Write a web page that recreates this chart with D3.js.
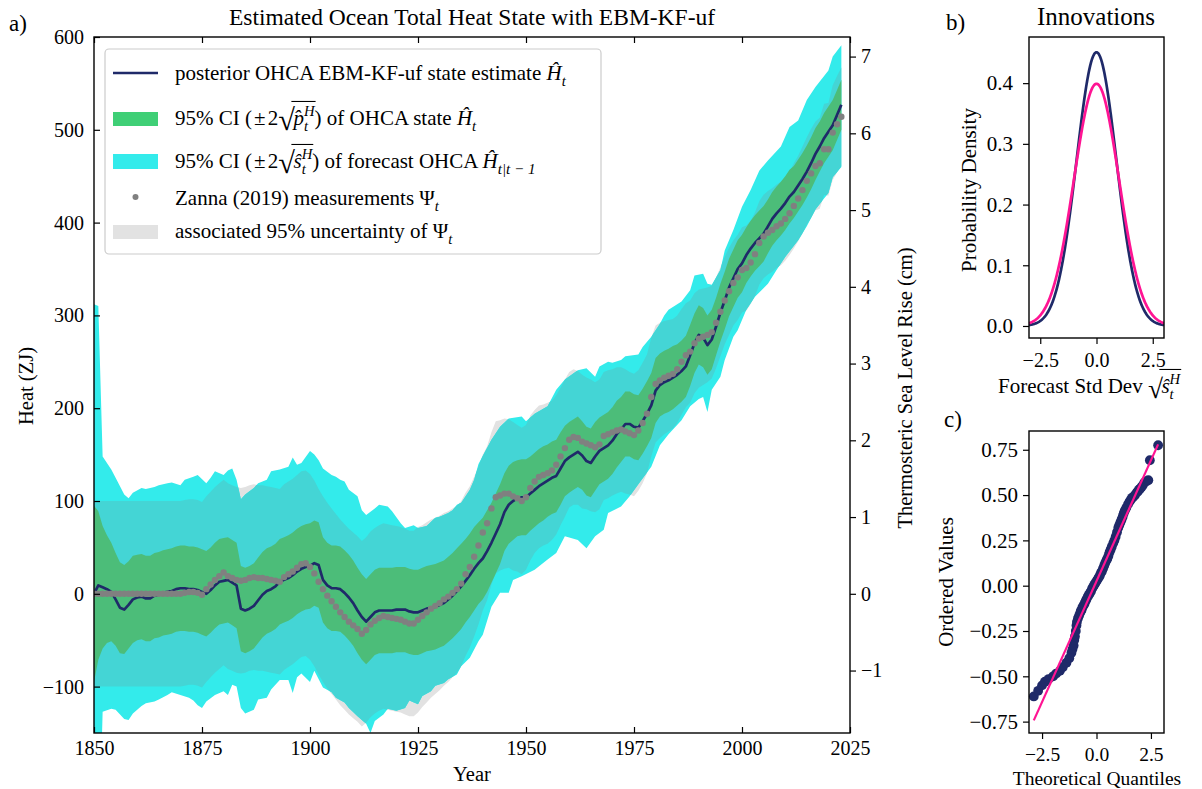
<!DOCTYPE html>
<html><head><meta charset="utf-8">
<script src="https://cdn.jsdelivr.net/npm/d3@7"></script>
<style>
body{margin:0;background:#fff}
text{font-family:"Liberation Serif","Times New Roman",serif;fill:#000;white-space:pre}
</style></head>
<body><svg id="fig" width="1202" height="789"></svg>
<script>
// ---------------- data ----------------
const firstYear = 1850;
// Zanna (2019) ocean heat content measurements, ZJ, one per year 1850-2023
const measured = [
  0,0,0,0,0,0,0,0,0,0,
  0,0,0,0,0,0,0,0,0,0,
  0,1,2,2,1,-1,5,10,15,19,
  23,19,17,15,14,15,17,18,17,17,
  16,15,14,13,18,21,24,28,32,33,
  29,22,13,5,-2,-8,-14,-20,-25,-30,
  -34,-38,-43,-39,-33,-29,-26,-24,-25,-26,
  -27,-28,-30,-32,-32,-28,-24,-20,-16,-13,
  -10,-6,-3,1,5,11,21,29,40,52,
  66,76,92,104,106,108,108,105,103,100,
  104,114,121,126,128,130,133,139,148,157,
  166,169,168,164,162,160,158,161,170,172,
  174,176,177,175,173,171,176,184,194,212,
  226,230,233,235,237,242,250,257,261,270,
  275,277,279,282,292,304,316,326,335,341,
  349,351,357,366,378,385,389,392,396,399,
  404,410,418,426,435,445,453,461,464,479,
  479,497,506,514
];
// half-width of the 95% measurement uncertainty, ZJ
const measuredUnc = [
  100,100,100,100,100,100,100,100,100,100,
  100,100,100,100,100,100,100,100,100,100,
  100,100,100,100,100,100,100,100,100,100,
  100,100,100,100,100,100,100,100,100,100,
  100,100,100,100,100,100,100,100,100,100,
  100,100,100,100,100,100,100,100,100,100,
  100,100,100,100,100,100,100,100,100,100,
  100,100,100,100,100,100,98,97,96,95,
  94,93,92,91,90,89,88,87,86,85,
  84,83,82,82,81,81,80,80,79,79,
  78,78,77,77,76,76,75,75,74,74,
  73,73,72,72,71,71,70,70,69,69,
  68,68,67,67,66,66,65,65,64,64,
  63,62,61,60,59,58,57,56,55,54,
  53,52,51,50,49,48,47,47,46,46,
  46,46,45,45,45,45,45,45,45,45,
  45,45,46,46,47,47,48,48,49,49,
  50,51,52,53
];
// posterior EBM-KF-uf state estimate of ocean heat, ZJ
const posterior = [
  0,9,7,5,2,-6,-15,-17,-12,-6,
  -4,-3,-5,-5,-2,-1,1,2,3,5,
  6,6,5,5,4,2,0,4,9,13,
  14,15,12,9,-16,-18,-16,-13,-7,-1,
  3,5,8,13,15,17,20,24,27,29,
  30,33,31,15,9,6,6,5,1,-4,
  -10,-18,-25,-30,-25,-20,-18,-18,-18,-18,
  -17,-17,-17,-19,-20,-20,-18,-16,-15,-14,
  -12,-10,-6,-2,3,8,14,20,27,33,
  38,46,55,65,75,88,96,100,103,104,
  104,108,112,116,119,122,125,127,135,143,
  147,150,153,149,143,141,148,154,157,160,
  165,172,177,183,183,180,179,186,194,203,
  219,225,228,230,233,236,240,245,257,270,
  279,276,268,274,288,303,316,330,340,350,
  356,365,372,378,383,388,396,404,410,415,
  421,428,433,440,447,455,464,474,482,491,
  498,505,516,527
];
// 2*sqrt(p) half-width of the posterior state interval, ZJ
const posteriorCI = [
  95,80,66,58,53,50,49,48,47,47,
  46,46,46,46,46,46,46,46,46,46,
  46,46,46,46,46,46,46,46,46,46,
  46,46,46,46,46,46,46,46,46,46,
  46,46,46,46,46,46,46,46,46,46,
  46,46,46,46,46,46,46,46,46,46,
  46,46,46,46,46,46,46,46,46,46,
  46,46,46,46,46,46,46,46,46,46,
  46,46,46,46,46,46,45,45,45,44,
  44,44,43,43,43,42,42,42,41,41,
  41,40,40,40,40,39,39,39,39,38,
  38,38,38,37,37,37,37,36,36,36,
  36,36,35,35,35,35,35,35,35,35,
  35,34,34,34,34,33,33,33,33,32,
  32,32,32,32,31,31,31,31,31,31,
  31,30,30,30,30,30,29,29,29,29,
  29,29,28,28,28,28,28,28,27,27,
  27,27,27,27
];
// edges of the 95% forecast interval, [year, ZJ]
const forecastUpperYears = [1850,1851,1852,1854,1855,1857,1858,1859,1861,1862,1864,1865,1867,1868,1870,1871,1873,1874,1876,1877,1878,1880,1881,1882,1883,1884,1885,1887,1888,1890,1891,1893,1895,1896,1897,1898,1900,1901,1902,1903,1905,1906,1907,1908,1909,1911,1912,1913,1915,1916,1918,1919,1921,1922,1924,1925,1927,1929,1930,1932,1933,1934,1935,1937,1938,1939,1942,1944,1946,1949,1950,1952,1955,1957,1959,1962,1964,1966,1967,1969,1970,1972,1973,1976,1977,1979,1981,1982,1983,1986,1988,1989,1991,1992,1993,1995,1996,1998,2000,2002,2004,2006,2009,2011,2013,2015,2017,2020,2021,2023];
const forecastUpper = [312,310,148,134,125,107,103,109,114,113,115,117,119,120,117,123,126,128,119,125,132,128,133,135,123,102,107,114,119,123,132,134,137,147,139,141,154,150,144,135,128,126,123,121,112,105,90,85,92,96,94,89,76,71,74,71,73,82,83,87,90,96,98,112,123,140,166,180,189,191,186,194,202,220,231,241,243,234,245,250,249,252,256,258,266,277,291,300,306,315,327,343,345,334,333,349,370,392,417,435,456,467,482,503,510,532,546,564,579,591];
const forecastLowerYears = [1850,1851,1852,1854,1855,1857,1858,1859,1861,1862,1864,1865,1867,1868,1870,1872,1873,1874,1875,1876,1878,1880,1881,1882,1883,1884,1885,1887,1888,1890,1891,1893,1895,1896,1897,1898,1900,1901,1903,1905,1906,1908,1909,1911,1913,1914,1915,1917,1918,1920,1922,1923,1925,1926,1928,1929,1931,1932,1934,1935,1937,1939,1940,1942,1944,1946,1947,1949,1952,1955,1957,1959,1962,1964,1966,1968,1969,1972,1974,1976,1979,1981,1983,1986,1988,1990,1991,1992,1993,1995,1996,1998,1999,2001,2003,2006,2008,2010,2013,2015,2017,2020,2021,2023];
const forecastLower = [-312,-300,-127,-124,-125,-135,-136,-129,-121,-118,-116,-114,-109,-106,-109,-112,-115,-120,-123,-116,-109,-105,-109,-98,-100,-123,-129,-125,-114,-112,-103,-93,-93,-107,-90,-86,-95,-83,-101,-106,-112,-117,-123,-132,-140,-150,-137,-130,-124,-126,-123,-115,-119,-110,-105,-99,-96,-92,-87,-78,-69,-51,-44,-14,1,1,15,19,26,37,44,62,58,49,62,69,87,94,105,118,137,160,172,187,202,210,212,196,220,234,252,277,284,306,320,334,349,363,381,396,414,432,449,460];

// innovation density panel: fitted innovation sd and the standard normal
const innovSd = [0.885, 1.0];

// probability plot: theoretical quantiles and ordered standardized innovations
const qqTheoretical = [-2.88,-2.68,-2.5,-2.37,-2.2,-1.99,-1.85,-1.68,-1.55,-1.38,-1.25,-1.15,-1.1,-1.05,-1.02,-0.99,-0.95,-0.92,-0.9,-0.85,-0.8,-0.75,-0.72,-0.69,-0.65,-0.6,-0.55,-0.5,-0.46,-0.4,-0.35,-0.3,-0.25,-0.2,-0.15,-0.1,-0.05,0,0.05,0.1,0.15,0.2,0.25,0.3,0.35,0.4,0.46,0.5,0.55,0.6,0.65,0.7,0.77,0.82,0.88,0.94,1.0,1.05,1.1,1.15,1.2,1.25,1.3,1.37,1.45,1.52,1.58,1.63,1.69,1.77,1.85,1.9,1.95,2.0,2.07,2.13,2.2,2.28,2.38,2.45,2.83];
const qqOrdered = [-0.611,-0.58,-0.55,-0.53,-0.515,-0.5,-0.485,-0.47,-0.45,-0.425,-0.4,-0.37,-0.35,-0.33,-0.3,-0.28,-0.25,-0.22,-0.2,-0.18,-0.165,-0.15,-0.14,-0.135,-0.12,-0.11,-0.1,-0.085,-0.075,-0.06,-0.05,-0.04,-0.03,-0.015,-0.005,0.005,0.015,0.025,0.035,0.045,0.055,0.07,0.08,0.095,0.11,0.125,0.14,0.15,0.165,0.185,0.2,0.215,0.235,0.25,0.27,0.295,0.32,0.335,0.35,0.365,0.38,0.4,0.415,0.43,0.45,0.465,0.475,0.485,0.49,0.5,0.515,0.52,0.53,0.535,0.545,0.555,0.57,0.575,0.582,0.692,0.775];
const qqFit = [0.2667, 0.025]; // slope, intercept

const yearTicks = [1850,1875,1900,1925,1950,1975,2000,2025];
const heatTicks = [-100,0,100,200,300,400,500,600];
const seaTicks = [-1,0,1,2,3,4,5,6,7];
const densityTicks = [0,0.1,0.2,0.3,0.4];
const sdTicks = [-2.5,0,2.5];
const orderedTicks = [-0.75,-0.5,-0.25,0,0.25,0.5,0.75];
const zjPerCm = 82.7;

// ---------------- drawing ----------------
const svg = d3.select("#fig");
const NAVY = "#1f2a69", PINK = "#ff1493";
const C_CYAN = "#33ebeb", C_TEAL = "#44d5d5", C_GREEN = "#4cbd79", C_GRAY = "#e2e2e2";
const SERIF = "Liberation Serif, Times New Roman, serif";
const TICK = 20, LABEL = 20.5, SMALLTICK = 21;

const years = measured.map((_, i) => firstYear + i);
const x = d3.scaleLinear().domain([1850, 2025]).range([94, 850]);
const y = d3.scaleLinear().domain([-150, 600]).range([733, 37]);
const yR = d3.scaleLinear().domain([-150 / zjPerCm, 600 / zjPerCm]).range([733, 37]);

const defs = svg.append("defs");
defs.append("clipPath").attr("id", "plotClip").append("rect")
  .attr("x", 94).attr("y", 37).attr("width", 756).attr("height", 696);

const forecastPts = forecastUpperYears.map((yr, i) => [yr, forecastUpper[i]])
  .concat(forecastLowerYears.map((yr, i) => [yr, forecastLower[i]]).reverse());
const polyLine = d3.line().x(d => x(d[0])).y(d => y(d[1]));
const forecastPath = polyLine(forecastPts) + "Z";
defs.append("clipPath").attr("id", "forecastClip").append("path").attr("d", forecastPath);

const plot = svg.append("g").attr("clip-path", "url(#plotClip)");
const uncArea = d3.area().x((d, i) => x(years[i]))
  .y0((d, i) => y(measured[i] - measuredUnc[i])).y1((d, i) => y(measured[i] + measuredUnc[i]));
plot.append("path").attr("d", uncArea(measured)).attr("fill", C_GRAY);
plot.append("path").attr("d", forecastPath).attr("fill", C_CYAN);
plot.append("path").attr("d", uncArea(measured)).attr("fill", C_TEAL).attr("clip-path", "url(#forecastClip)");
const ciArea = d3.area().x((d, i) => x(years[i]))
  .y0((d, i) => y(posterior[i] - posteriorCI[i])).y1((d, i) => y(posterior[i] + posteriorCI[i]));
plot.append("path").attr("d", ciArea(posterior)).attr("fill", C_GREEN);
plot.append("path").attr("d", d3.line().x((d, i) => x(years[i])).y(d => y(d))(posterior))
  .attr("fill", "none").attr("stroke", NAVY).attr("stroke-width", 2.7).attr("stroke-linejoin", "round");
plot.selectAll("circle.meas").data(measured).join("circle").attr("class", "meas")
  .attr("cx", (d, i) => x(years[i])).attr("cy", d => y(d)).attr("r", 3.2).attr("fill", "#808080");

function styleAxis(g, size) {
  g.attr("font-family", SERIF).attr("font-size", size);
  g.selectAll(".tick line").attr("stroke", "#000").attr("stroke-width", 1.2);
  g.selectAll(".tick text").attr("fill", "#000");
  g.select(".domain").remove();
}
svg.append("g").attr("transform", "translate(0,733)")
  .call(d3.axisBottom(x).tickValues(yearTicks).tickFormat(d3.format("d")).tickSizeInner(-6).tickSizeOuter(0).tickPadding(8))
  .call(g => styleAxis(g, TICK));
svg.append("g").attr("transform", "translate(0,37)")
  .call(d3.axisTop(x).tickValues(yearTicks).tickFormat("").tickSizeInner(-6).tickSizeOuter(0))
  .call(g => styleAxis(g, TICK));
svg.append("g").attr("transform", "translate(94,0)")
  .call(d3.axisLeft(y).tickValues(heatTicks).tickFormat(d3.format("d")).tickSizeInner(-6).tickSizeOuter(0).tickPadding(10))
  .call(g => styleAxis(g, TICK));
svg.append("g").attr("transform", "translate(850,0)")
  .call(d3.axisRight(yR).tickValues(seaTicks).tickFormat(d3.format("d")).tickSizeInner(6).tickSizeOuter(0).tickPadding(5))
  .call(g => styleAxis(g, TICK));
svg.append("rect").attr("x", 94).attr("y", 37).attr("width", 756).attr("height", 696)
  .attr("fill", "none").attr("stroke", "#000").attr("stroke-width", 1.4);

svg.append("text").attr("x", 472).attr("y", 25).attr("text-anchor", "middle").attr("font-size", 23.5)
  .text("Estimated Ocean Total Heat State with EBM-KF-uf");
svg.append("text").attr("x", 472).attr("y", 781).attr("text-anchor", "middle").attr("font-size", LABEL).text("Year");
svg.append("text").attr("transform", "translate(33,386) rotate(-90)").attr("text-anchor", "middle").attr("font-size", LABEL).text("Heat (ZJ)");
svg.append("text").attr("transform", "translate(912,388) rotate(-90)").attr("text-anchor", "middle").attr("font-size", LABEL).text("Thermosteric Sea Level Rise (cm)");
svg.append("text").attr("x", 9).attr("y", 31).attr("font-size", 23).text("a)");
svg.append("text").attr("x", 946).attr("y", 30).attr("font-size", 23).text("b)");
svg.append("text").attr("x", 944).attr("y", 427).attr("font-size", 23).text("c)");

// text with simple math: parts are {t, it, s (scale), dy (em), stack, ovStart, ovEnd, kern, pre}
function mathText(g, x0, y0, parts, size) {
  let cx = x0, ov = null, stackW = 0;
  const lines = [];
  parts.forEach(p => {
    cx += (p.pre || 0) * size;
    const t = g.append("text").attr("x", cx).attr("y", y0 + (p.dy || 0) * size)
      .attr("font-size", size * (p.s || 1)).attr("font-style", p.it ? "italic" : "normal").text(p.t);
    if (p.ovStart !== undefined) ov = cx + p.ovStart * size;
    const w = t.node().getComputedTextLength() + (p.kern || 0) * size;
    if (p.stack) { stackW = Math.max(stackW, w); }
    else { cx += Math.max(w, stackW); stackW = 0; }
    if (p.ovEnd) lines.push([ov, cx + 1]);
  });
  lines.forEach(([a, b]) => g.append("line").attr("x1", a).attr("x2", b)
    .attr("y1", y0 - size * 1.12).attr("y2", y0 - size * 1.12).attr("stroke", "#000").attr("stroke-width", 1.1));
  return cx;
}
const hatH = [{ t: "H\u0302", it: true }, { t: "t", it: true, s: 0.7, dy: 0.3 }];
const plusTwo = [{ t: "95% CI (" }, { t: "\u00B1", pre: 0.1, kern: 0.1 }, { t: "2" }];
function rootOf(letter, rs) {
  return [{ t: "\u221A", s: rs || 1.45, dy: 0.24, kern: -0.07 },
          { t: letter + "\u0302", it: true, ovStart: -0.1 },
          { t: "H", it: true, s: 0.7, dy: -0.45, stack: true },
          { t: "t", it: true, s: 0.7, dy: 0.3, ovEnd: true, kern: 0.06 }];
}

// legend
const lg = svg.append("g");
lg.append("rect").attr("x", 105).attr("y", 49).attr("width", 496).attr("height", 205).attr("rx", 4)
  .attr("fill", "#fff").attr("stroke", "#cccccc").attr("stroke-width", 1.2);
const LX = 175, LS = 21;
lg.append("line").attr("x1", 113).attr("x2", 158).attr("y1", 73).attr("y2", 73).attr("stroke", NAVY).attr("stroke-width", 2.7);
mathText(lg, LX, 80, [{ t: "posterior OHCA EBM-KF-uf state estimate " }].concat(hatH), LS);
lg.append("rect").attr("x", 113).attr("y", 112).attr("width", 45).attr("height", 14).attr("fill", "#3fcf76");
mathText(lg, LX, 125, plusTwo.concat(rootOf("p"), [{ t: ") of OHCA state " }], hatH), LS);
lg.append("rect").attr("x", 113).attr("y", 154).attr("width", 45).attr("height", 15).attr("fill", C_CYAN);
mathText(lg, LX, 168, plusTwo.concat(rootOf("s"), [{ t: ") of forecast OHCA " }, { t: "H\u0302", it: true }, { t: "t|t \u2212 1", it: true, s: 0.72, dy: 0.3 }]), LS);
lg.append("circle").attr("cx", 135.5).attr("cy", 197).attr("r", 3).attr("fill", "#808080");
mathText(lg, LX, 205, [{ t: "Zanna (2019) measurements " }, { t: "\u03A8" }, { t: "t", it: true, s: 0.7, dy: 0.3 }], LS);
lg.append("rect").attr("x", 113).attr("y", 225).attr("width", 45).attr("height", 14).attr("fill", C_GRAY);
mathText(lg, LX, 238, [{ t: "associated 95% uncertainty of " }, { t: "\u03A8" }, { t: "t", it: true, s: 0.7, dy: 0.3 }], LS);

// ---------- panel b: innovation densities ----------
const bx = d3.scaleLinear().domain([-3, 3]).range([1029, 1164]);
const by = d3.scaleLinear().domain([-0.0198, 0.476]).range([338, 37]);
defs.append("clipPath").attr("id", "bClip").append("rect").attr("x", 1029).attr("y", 37).attr("width", 135).attr("height", 301);
const sdGrid = d3.range(-300, 301, 2).map(v => v / 100);
const pb = svg.append("g").attr("clip-path", "url(#bClip)");
[[innovSd[0], NAVY], [innovSd[1], PINK]].forEach(([sd, col]) => {
  const pts = sdGrid.map(v => [v, Math.exp(-0.5 * (v / sd) ** 2) / (sd * Math.sqrt(2 * Math.PI))]);
  pb.append("path").attr("d", d3.line().x(d => bx(d[0])).y(d => by(d[1]))(pts))
    .attr("fill", "none").attr("stroke", col).attr("stroke-width", 2.7);
});
svg.append("g").attr("transform", "translate(1029,0)")
  .call(d3.axisLeft(by).tickValues(densityTicks).tickFormat(d3.format(".1f")).tickSizeInner(6).tickSizeOuter(0).tickPadding(10))
  .call(g => styleAxis(g, SMALLTICK));
svg.append("g").attr("transform", "translate(0,338)")
  .call(d3.axisBottom(bx).tickValues(sdTicks).tickFormat(d3.format(".1f")).tickSizeInner(6).tickSizeOuter(0).tickPadding(9))
  .call(g => styleAxis(g, 20));
svg.append("rect").attr("x", 1029).attr("y", 37).attr("width", 135).attr("height", 301)
  .attr("fill", "none").attr("stroke", "#000").attr("stroke-width", 1.4);
svg.append("text").attr("x", 1096).attr("y", 25).attr("text-anchor", "middle").attr("font-size", 25).text("Innovations");
svg.append("text").attr("transform", "translate(976,190) rotate(-90)").attr("text-anchor", "middle").attr("font-size", 21).text("Probability Density");
mathText(svg.append("g"), 998, 393, [{ t: "Forecast Std Dev " }].concat(rootOf("s", 1.3)), 21);

// ---------- panel c: probability plot ----------
const qx = d3.scaleLinear().domain([-3.1, 3.1]).range([1029, 1164]);
const qy = d3.scaleLinear().domain([-0.8128, 0.8535]).range([733, 431]);
svg.append("g").selectAll("circle").data(qqOrdered).join("circle")
  .attr("cx", (d, i) => qx(qqTheoretical[i])).attr("cy", d => qy(d)).attr("r", 4.9).attr("fill", NAVY);
const qEnds = d3.extent(qqTheoretical);
svg.append("path").attr("d", d3.line().x(d => qx(d)).y(d => qy(qqFit[0] * d + qqFit[1]))(qEnds))
  .attr("stroke", PINK).attr("stroke-width", 2.2).attr("fill", "none");
svg.append("g").attr("transform", "translate(1029,0)")
  .call(d3.axisLeft(qy).tickValues(orderedTicks).tickFormat(d3.format(".2f")).tickSizeInner(6).tickSizeOuter(0).tickPadding(5))
  .call(g => styleAxis(g, SMALLTICK));
svg.append("g").attr("transform", "translate(0,733)")
  .call(d3.axisBottom(qx).tickValues(sdTicks).tickFormat(d3.format(".1f")).tickSizeInner(6).tickSizeOuter(0).tickPadding(8))
  .call(g => styleAxis(g, 19.5));
svg.append("rect").attr("x", 1029).attr("y", 431).attr("width", 135).attr("height", 302)
  .attr("fill", "none").attr("stroke", "#000").attr("stroke-width", 1.4);
svg.append("text").attr("transform", "translate(953,582) rotate(-90)").attr("text-anchor", "middle").attr("font-size", 21).text("Ordered Values");
svg.append("text").attr("x", 1097).attr("y", 785).attr("text-anchor", "middle").attr("font-size", 19.5).text("Theoretical Quantiles");
</script></body></html>
